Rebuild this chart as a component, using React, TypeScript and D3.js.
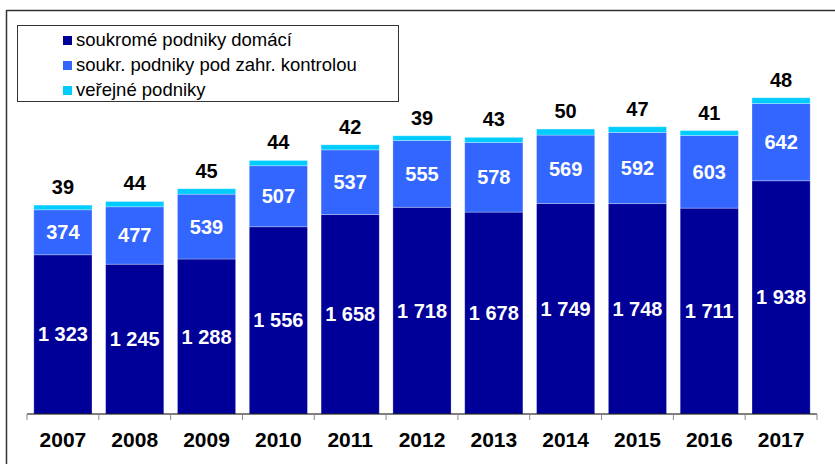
import React from "react";
import * as d3 from "d3";

const years = ["2007", "2008", "2009", "2010", "2011", "2012", "2013", "2014", "2015", "2016", "2017"];
const domestic = [1323, 1245, 1288, 1556, 1658, 1718, 1678, 1749, 1748, 1711, 1938];
const foreign = [374, 477, 539, 507, 537, 555, 578, 569, 592, 603, 642];
const publicEnt = [39, 44, 45, 44, 42, 39, 43, 50, 47, 41, 48];
const seriesNames = ["soukromé podniky domácí", "soukr. podniky pod zahr. kontrolou", "veřejné podniky"];
const seriesKeys = ["domestic", "foreign", "publicEnt"];
const colors = ["#000099", "#3366FF", "#00CCFF"];

const W = 835;
const H = 464;
const FONT = "Arial, 'Liberation Sans', sans-serif";

function fmt(v: number): string {
  const s = String(v);
  return s.length > 3 ? s.slice(0, s.length - 3) + " " + s.slice(-3) : s;
}

export default function App() {
  const rows = years.map((y, i) => ({
    year: y,
    domestic: domestic[i],
    foreign: foreign[i],
    publicEnt: publicEnt[i],
  }));
  const x = d3.scaleBand<string>().domain(years).range([27, 817]).paddingInner(0.19).paddingOuter(0.095);
  const y = d3.scaleLinear().domain([0, 3000]).range([414, 53]);
  const stack = d3.stack<any>().keys(seriesKeys);
  const layers = stack(rows);
  const step = x.step();

  return (
    <svg width={W} height={H} style={{ position: "absolute", left: 0, top: 0 }} fontFamily={FONT}>
      <rect x={0} y={0} width={W} height={H} fill="#fff" />
      {/* frame */}
      <line x1={6.5} y1={10.5} x2={W} y2={10.5} stroke="#333" strokeWidth={1.5} />
      <line x1={6.5} y1={10} x2={6.5} y2={H} stroke="#333" strokeWidth={1.5} />

      {/* bars */}
      {layers.map((layer, li) => (
        <g key={li}>
          {layer.map((d, i) => (
            <rect
              key={i}
              x={x(years[i])}
              y={y(d[1])}
              width={x.bandwidth()}
              height={y(d[0]) - y(d[1])}
              fill={colors[li]}
              stroke="rgba(255,255,255,0.35)"
              strokeWidth={0.8}
            />
          ))}
        </g>
      ))}

      {/* inner labels */}
      {layers.slice(0, 2).map((layer, li) => (
        <g key={"l" + li}>
          {layer.map((d, i) => {
            const cy = (y(d[0]) + y(d[1])) / 2;
            return (
              <text
                key={i}
                x={(x(years[i]) as number) + x.bandwidth() / 2}
                y={cy + 7}
                textAnchor="middle"
                fill="#fff"
                fontWeight="bold"
                fontSize={20}
              >
                {fmt(li === 0 ? domestic[i] : foreign[i])}
              </text>
            );
          })}
        </g>
      ))}

      {/* top labels */}
      {layers[2].map((d, i) => (
        <text
          key={"t" + i}
          x={(x(years[i]) as number) + x.bandwidth() / 2}
          y={y(d[1]) - 11}
          textAnchor="middle"
          fill="#000"
          fontWeight="bold"
          fontSize={20}
        >
          {publicEnt[i]}
        </text>
      ))}

      {/* x axis */}
      <line x1={27} y1={414} x2={817} y2={414} stroke="#000" strokeWidth={1.2} />
      {years.map((yr, i) => (
        <line
          key={"tk" + i}
          x1={(x(yr) as number) - x.paddingOuter() * step}
          x2={(x(yr) as number) - x.paddingOuter() * step}
          y1={414}
          y2={420}
          stroke="#888"
          strokeWidth={1}
        />
      ))}
      <line x1={817} x2={817} y1={414} y2={420} stroke="#888" strokeWidth={1} />
      {years.map((yr) => (
        <text
          key={"yl" + yr}
          x={(x(yr) as number) + x.bandwidth() / 2}
          y={447}
          textAnchor="middle"
          fontWeight="bold"
          fontSize={21}
          fill="#000"
        >
          {yr}
        </text>
      ))}

      {/* legend */}
      <rect x={17.5} y={25.5} width={381} height={76} fill="#fff" stroke="#333" strokeWidth={1} />
      {seriesNames.map((n, i) => (
        <g key={"lg" + i}>
          <rect x={63} y={36 + i * 25} width={9} height={9} fill={colors[i]} />
          <text x={76} y={46 + i * 25} fontSize={18.5} fill="#000">
            {n}
          </text>
        </g>
      ))}
    </svg>
  );
}
